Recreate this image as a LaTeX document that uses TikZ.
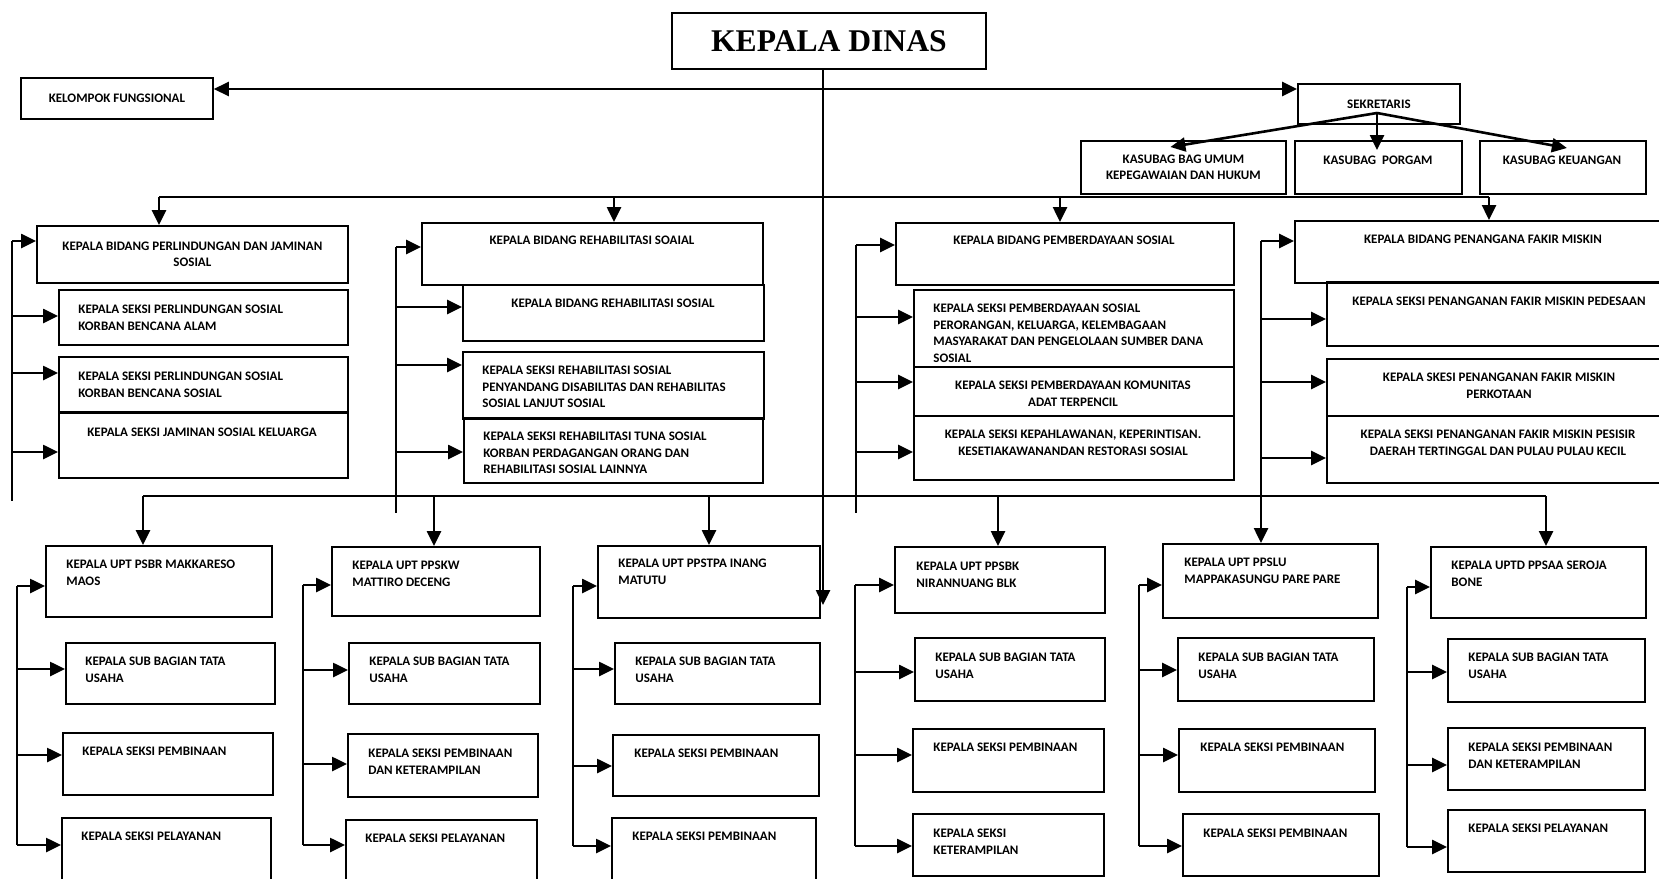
\documentclass[tikz,border=0pt]{standalone}
\usepackage{fontspec}
\newfontfamily\carl{Carlito}
\newfontfamily\tnr{Liberation Serif}
\usetikzlibrary{arrows.meta,calc}
\tikzset{
 box/.style={draw, line width=0.9pt, inner sep=0pt, anchor=north west},
 ln/.style={line width=1.3pt},
 arr/.style={line width=1.3pt, -{Triangle[length=7.5pt,width=7pt]}},
 dar/.style={line width=1.3pt, {Triangle[length=7.5pt,width=7pt]}-{Triangle[length=7.5pt,width=7pt]}},
 tf/.style={font=\carl\bfseries\fontsize{6.5}{8.2}\selectfont},
 lt/.style={tf, anchor=north west, inner sep=0pt, align=left},
 ct/.style={tf, anchor=north, inner sep=0pt, align=center},
}
\newcommand\bx[5]{\pgfmathsetmacro\bw{(#4-#2)*0.5}\pgfmathsetmacro\bh{(#5-#3)*0.5}%
 \node[box,minimum width=\bw pt,minimum height=\bh pt] (#1) at (#2,#3) {};}
\newcommand\bxt[7]{\pgfmathsetmacro\bw{(#4-#2)*0.5}\pgfmathsetmacro\bh{(#5-#3)*0.5}%
 \node[box,minimum width=\bw pt,minimum height=\bh pt,align=center,#6] (#1) at (#2,#3) {#7};}
\begin{document}
\begin{tikzpicture}[x=0.5pt,y=-0.5pt]
\useasboundingbox (0,0) rectangle (1659,878);
\fill[white] (0,0) rectangle (1659,878);
\clip (0,0) rectangle (1659,878);

% top level
\bxt{kd}{671}{12}{985}{68}{font=\tnr\bfseries\fontsize{15.8}{18}\selectfont}{KEPALA DINAS}
\bxt{kf}{20}{77}{212}{118}{tf}{KELOMPOK FUNGSIONAL}
\bxt{sek}{1297}{83}{1459}{123}{tf}{SEKRETARIS}
\bxt{ku}{1080}{140}{1285}{193}{tf}{KASUBAG BAG UMUM\\KEPEGAWAIAN DAN HUKUM}
\bx{kp}{1294}{140}{1461}{193}
\node[ct] (kpt) at (1378,156) {KASUBAG\ \ PORGAM};
\bx{kk}{1479}{140}{1645}{193}
\node[ct] (kkt) at (1562,156) {KASUBAG KEUANGAN};

% column 1
\bxt{b1}{36}{225}{347}{282}{tf}{KEPALA BIDANG PERLINDUNGAN DAN JAMINAN\\SOSIAL}
\bx{s11}{58}{289}{347}{344}
\node[lt] (s11t) at (78,305) {KEPALA SEKSI PERLINDUNGAN SOSIAL\\KORBAN BENCANA ALAM};
\bx{s12}{58}{356}{347}{411}
\node[lt] (s12t) at (78,372) {KEPALA SEKSI PERLINDUNGAN SOSIAL\\KORBAN BENCANA SOSIAL};
\bx{s13}{58}{412}{347}{477}
\node[ct] (s13t) at (202,428) {KEPALA SEKSI JAMINAN SOSIAL KELUARGA};

% column 2
\bx{b2}{421}{222}{762}{284}
\node[ct] (b2t) at (592,236) {KEPALA BIDANG REHABILITASI SOAIAL};
\bx{s21}{462}{284}{763}{340}
\node[ct] (s21t) at (613,299) {KEPALA BIDANG REHABILITASI SOSIAL};
\bx{s22}{462}{351}{763}{418}
\node[lt] (s22t) at (482,366) {KEPALA SEKSI REHABILITASI SOSIAL\\PENYANDANG DISABILITAS DAN REHABILITAS\\SOSIAL LANJUT SOSIAL};
\bx{s23}{463}{417}{762}{482}
\begin{scope}
\clip (463,417) rectangle (762,472);
\node[lt] (s23t) at (483,432) {KEPALA SEKSI REHABILITASI TUNA SOSIAL\\KORBAN PERDAGANGAN ORANG DAN\\REHABILITASI SOSIAL LAINNYA};
\end{scope}

% column 3
\bx{b3}{895}{222}{1233}{284}
\node[ct] (b3t) at (1064,236) {KEPALA BIDANG PEMBERDAYAAN SOSIAL};
\bx{s31}{913}{289}{1233}{366}
\node[lt] (s31t) at (933,304) {KEPALA SEKSI PEMBERDAYAAN SOSIAL\\PERORANGAN, KELUARGA, KELEMBAGAAN\\MASYARAKAT DAN PENGELOLAAN SUMBER DANA\\SOSIAL};
\bx{s32}{913}{366}{1233}{415}
\node[ct] (s32t) at (1073,381) {KEPALA SEKSI PEMBERDAYAAN KOMUNITAS\\ADAT TERPENCIL};
\bx{s33}{913}{415}{1233}{479}
\node[ct] (s33t) at (1073,430) {KEPALA SEKSI KEPAHLAWANAN, KEPERINTISAN.\\KESETIAKAWANANDAN RESTORASI SOSIAL};

% column 4
\bx{b4}{1294}{220}{1668}{282}
\node[ct] (b4t) at (1483,235) {KEPALA BIDANG PENANGANA FAKIR MISKIN};
\bx{s41}{1326}{281}{1668}{345}
\node[ct] (s41t) at (1499,297) {KEPALA SEKSI PENANGANAN FAKIR MISKIN PEDESAAN};
\bx{s42}{1326}{358}{1668}{415}
\node[ct] (s42t) at (1499,373) {KEPALA SKESI PENANGANAN FAKIR MISKIN\\PERKOTAAN};
\bx{s43}{1326}{415}{1668}{482}
\node[ct] (s43t) at (1498,430) {KEPALA SEKSI PENANGANAN FAKIR MISKIN PESISIR\\DAERAH TERTINGGAL DAN PULAU PULAU KECIL};

% UPT 1
\bx{p1}{45}{545}{271}{616}
\node[lt] (p1t) at (66,560) {KEPALA UPT PSBR MAKKARESO\\MAOS};
\bx{p1a}{65}{642}{274}{703}
\node[lt] (p1at) at (85,657) {KEPALA SUB BAGIAN TATA\\USAHA};
\bx{p1b}{62}{732}{272}{794}
\node[lt] (p1bt) at (82,747) {KEPALA SEKSI PEMBINAAN};
\bx{p1c}{61}{817}{270}{890}
\node[lt] (p1ct) at (81,832) {KEPALA SEKSI PELAYANAN};
% UPT 2
\bx{p2}{331}{546}{539}{615}
\node[lt] (p2t) at (352,561) {KEPALA UPT PPSKW\\MATTIRO DECENG};
\bx{p2a}{348}{642}{539}{703}
\node[lt] (p2at) at (369,657) {KEPALA SUB BAGIAN TATA\\USAHA};
\bx{p2b}{347}{733}{537}{796}
\node[lt] (p2bt) at (368,749) {KEPALA SEKSI PEMBINAAN\\DAN KETERAMPILAN};
\bx{p2c}{345}{819}{536}{890}
\node[lt] (p2ct) at (365,834) {KEPALA SEKSI PELAYANAN};
% UPT 3
\bx{p3}{597}{545}{819}{617}
\node[lt] (p3t) at (618,559) {KEPALA UPT PPSTPA INANG\\MATUTU};
\bx{p3a}{614}{642}{819}{703}
\node[lt] (p3at) at (635,657) {KEPALA SUB BAGIAN TATA\\USAHA};
\bx{p3b}{612}{734}{818}{795}
\node[lt] (p3bt) at (634,749) {KEPALA SEKSI PEMBINAAN};
\bx{p3c}{611}{817}{815}{890}
\node[lt] (p3ct) at (632,832) {KEPALA SEKSI PEMBINAAN};
% UPT 4
\bx{p4}{894}{546}{1104}{612}
\node[lt] (p4t) at (916,562) {KEPALA UPT PPSBK\\NIRANNUANG BLK};
\bx{p4a}{914}{637}{1104}{700}
\node[lt] (p4at) at (935,653) {KEPALA SUB BAGIAN TATA\\USAHA};
\bx{p4b}{912}{728}{1103}{791}
\node[lt] (p4bt) at (933,743) {KEPALA SEKSI PEMBINAAN};
\bx{p4c}{912}{813}{1103}{875}
\node[lt] (p4ct) at (933,829) {KEPALA SEKSI\\KETERAMPILAN};
% UPT 5
\bx{p5}{1162}{543}{1377}{617}
\node[lt] (p5t) at (1184,558) {KEPALA UPT PPSLU\\MAPPAKASUNGU PARE PARE};
\bx{p5a}{1177}{637}{1373}{700}
\node[lt] (p5at) at (1198,653) {KEPALA SUB BAGIAN TATA\\USAHA};
\bx{p5b}{1178}{728}{1374}{791}
\node[lt] (p5bt) at (1200,743) {KEPALA SEKSI PEMBINAAN};
\bx{p5c}{1182}{813}{1378}{875}
\node[lt] (p5ct) at (1203,829) {KEPALA SEKSI PEMBINAAN};
% UPT 6
\bx{p6}{1430}{546}{1645}{617}
\node[lt] (p6t) at (1451,561) {KEPALA UPTD PPSAA SEROJA\\BONE};
\bx{p6a}{1447}{638}{1644}{701}
\node[lt] (p6at) at (1468,653) {KEPALA SUB BAGIAN TATA\\USAHA};
\bx{p6b}{1447}{727}{1644}{789}
\node[lt] (p6bt) at (1468,743) {KEPALA SEKSI PEMBINAAN\\DAN KETERAMPILAN};
\bx{p6c}{1447}{809}{1644}{871}
\node[lt] (p6ct) at (1468,824) {KEPALA SEKSI PELAYANAN};

% connectors from Kepala Dinas
\coordinate (kdend) at (823,605);
\draw[arr] (kd.south -| kdend) -- (kdend);
\draw[dar] (kf.east |- 0,89) -- (sek.west |- 0,89);
\coordinate (sekb) at (1377,113);
\draw[arr] (sekb) -- ($(ku.north)+(-13,7)$);
\draw[arr] (sekb) -- ($(sekb |- kp.north)+(0,10)$);
\draw[arr] (sekb) -- ($(kk.north)+(4,8)$);

% row 2 bus
\coordinate (r2a) at (159,197);
\coordinate (r2b) at (614,197);
\coordinate (r2c) at (1060,197);
\coordinate (r2d) at (1489,197);
\draw[ln] (r2a) -- (r2d);
\foreach \n/\b in {r2a/b1,r2b/b2,r2c/b3,r2d/b4}
  \draw[arr] (\n) -- (\n |- \b.north);

% row 3 bus
\coordinate (r3a) at (143,496);
\coordinate (r3b) at (434,496);
\coordinate (r3c) at (709,496);
\coordinate (r3d) at (998,496);
\coordinate (r3e) at (1261,496);
\coordinate (r3f) at (1546,496);
\draw[ln] (r3a) -- (r3f);
\foreach \n/\b in {r3a/p1,r3b/p2,r3c/p3,r3d/p4,r3e/p5,r3f/p6}
  \draw[arr] (\n) -- (\n |- \b.north);

% spines of bidang
\coordinate (c1) at (12,241);   \coordinate (c1e) at (12,501);
\coordinate (c2) at (396,247);  \coordinate (c2e) at (396,513);
\coordinate (c3) at (856,245);  \coordinate (c3e) at (856,513);
\coordinate (c4) at (1261,241); \coordinate (c4e) at (1261,530);
\draw[ln] (c1) -- (c1e);
\draw[ln] (c2) -- (c2e);
\draw[ln] (c3) -- (c3e);
\draw[ln] (c4) -- (c4e);
\draw[arr] (c1) -- (b1.west |- c1);
\draw[arr] (c2) -- (b2.west |- c2);
\draw[arr] (c3) -- (b3.west |- c3);
\draw[arr] (c4) -- (b4.west |- c4);
\foreach \y/\b in {316/s11,373/s12,452/s13}
  \draw[arr] (c1 |- 0,\y) -- (\b.west |- 0,\y);
\foreach \y/\b in {307/s21,365/s22,452/s23}
  \draw[arr] (c2 |- 0,\y) -- (\b.west |- 0,\y);
\foreach \y/\b in {317/s31,382/s32,452/s33}
  \draw[arr] (c3 |- 0,\y) -- (\b.west |- 0,\y);
\foreach \y/\b in {319/s41,382/s42,458/s43}
  \draw[arr] (c4 |- 0,\y) -- (\b.west |- 0,\y);

% spines of UPT
\coordinate (u1) at (17,586);   \coordinate (u1e) at (17,845);
\coordinate (u2) at (303,585);  \coordinate (u2e) at (303,845);
\coordinate (u3) at (573,586);  \coordinate (u3e) at (573,846);
\coordinate (u4) at (855,585);  \coordinate (u4e) at (855,846);
\coordinate (u5) at (1139,585); \coordinate (u5e) at (1139,846);
\coordinate (u6) at (1407,587); \coordinate (u6e) at (1407,847);
\foreach \u in {u1,u2,u3,u4,u5,u6} \draw[ln] (\u) -- (\u e);
\draw[arr] (u1) -- (p1.west |- u1);
\draw[arr] (u2) -- (p2.west |- u2);
\draw[arr] (u3) -- (p3.west |- u3);
\draw[arr] (u4) -- (p4.west |- u4);
\draw[arr] (u5) -- (p5.west |- u5);
\draw[arr] (u6) -- (p6.west |- u6);
\foreach \y/\b in {669/p1a,755/p1b,845/p1c} \draw[arr] (u1 |- 0,\y) -- (\b.west |- 0,\y);
\foreach \y/\b in {670/p2a,764/p2b,845/p2c} \draw[arr] (u2 |- 0,\y) -- (\b.west |- 0,\y);
\foreach \y/\b in {669/p3a,766/p3b,846/p3c} \draw[arr] (u3 |- 0,\y) -- (\b.west |- 0,\y);
\foreach \y/\b in {672/p4a,755/p4b,846/p4c} \draw[arr] (u4 |- 0,\y) -- (\b.west |- 0,\y);
\foreach \y/\b in {670/p5a,755/p5b,846/p5c} \draw[arr] (u5 |- 0,\y) -- (\b.west |- 0,\y);
\foreach \y/\b in {672/p6a,765/p6b,847/p6c} \draw[arr] (u6 |- 0,\y) -- (\b.west |- 0,\y);
\end{tikzpicture}
\end{document}
